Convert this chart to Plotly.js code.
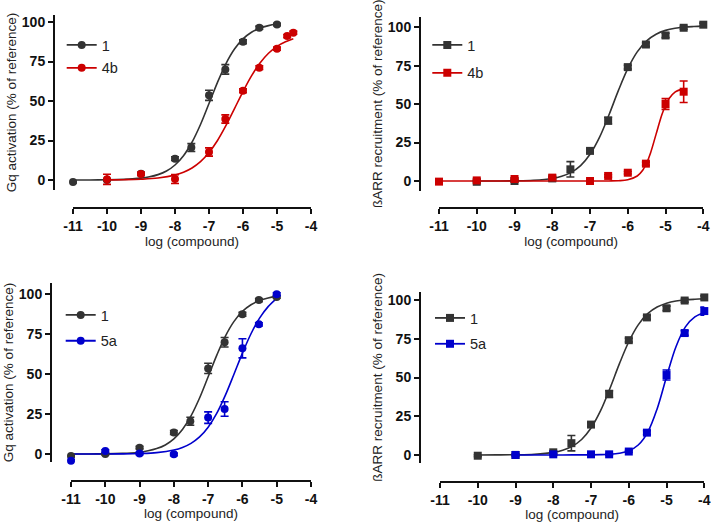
<!DOCTYPE html>
<html><head><meta charset="utf-8">
<script src="https://cdn.plot.ly/plotly-3.0.1.min.js"></script>
<style>html,body{margin:0;padding:0;background:#fff}#chart{width:711px;height:525px}</style>
</head><body><div id="chart"></div>
<script>
// ---------- tick labels ----------
const xTickVals = [-11, -10, -9, -8, -7, -6, -5, -4];
const xTickText = ['-11', '-10', '-9', '-8', '-7', '-6', '-5', '-4'];
const yTickVals = [0, 25, 50, 75, 100];
const yTickText = ['0', '25', '50', '75', '100'];
const seriesNames = ['1', '4b', '5a'];

// ---------- Gq activation: compound 1 (panels 1 & 3) ----------
const gq1X   = [-11, -10, -9, -8, -7.52, -7, -6.52, -6, -5.52, -5];
const gq1Y   = [-1.3, 0.0, 4.0, 13.5, 20.5, 53.6, 70.0, 87.5, 96.4, 98.4];
const gq1Err = [0.5, 0.5, 0.8, 1.2, 2.5, 3.2, 3.0, 1.2, 1.0, 0.8];
// ---------- Gq activation: 4b ----------
const gq4bX   = [-10, -9, -8, -7, -6.52, -6, -5.52, -5, -4.7, -4.52];
const gq4bY   = [0.4, 3.8, 0.6, 17.7, 38.6, 56.5, 71.1, 83.1, 91.1, 93.2];
const gq4bErr = [3.2, 1.0, 2.8, 2.6, 2.6, 1.2, 1.2, 1.0, 1.0, 1.0];
// ---------- Gq activation: 5a ----------
const gq5aX   = [-11, -10, -9, -8, -7, -6.52, -6, -5.52, -5];
const gq5aY   = [-4.2, 1.9, 0.4, -0.2, 22.8, 28.2, 66.2, 81.2, 100];
const gq5aErr = [0.8, 0.8, 0.8, 0.8, 3.6, 4.5, 6.0, 1.0, 1.0];
// ---------- ßARR recruitment: compound 1 (panels 2 & 4) ----------
const b1X   = [-10, -9, -8, -7.52, -7, -6.52, -6, -5.52, -5, -4.52, -4];
const b1Y   = [-0.5, 0.0, 1.7, 7.6, 19.6, 39.3, 74.1, 88.8, 94.7, 99.7, 101.7];
const b1Err = [0.6, 0.6, 0.8, 5.0, 1.2, 2.2, 1.2, 1.2, 1.4, 1.0, 1.0];
// ---------- ßARR recruitment: 4b ----------
const b4bX   = [-11, -10, -9, -8, -7, -6.52, -6, -5.52, -5, -4.52];
const b4bY   = [-0.4, 0.4, 1.3, 2.2, 0.0, 3.3, 5.4, 11.3, 50.1, 58.1];
const b4bErr = [0.5, 0.5, 0.6, 0.6, 0.5, 0.8, 0.8, 1.0, 3.5, 7.0];
// ---------- ßARR recruitment: 5a ----------
const b5aX   = [-9, -8, -7, -6.52, -6, -5.52, -5, -4.52, -4];
const b5aY   = [0.0, 0.4, 0.4, 0.4, 2.2, 14.4, 51.6, 78.7, 92.9];
const b5aErr = [0.5, 0.5, 0.5, 0.5, 0.6, 1.2, 3.2, 1.5, 2.6];

// ---------- fitted curves ----------
const fitGq1X = [-11, -10.5, -10, -9.5, -9.25, -9, -8.75, -8.5, -8.25, -8, -7.75, -7.5, -7.25, -7, -6.75, -6.5, -6.25, -6, -5.75, -5.5, -5.25, -5];
const fitGq1Y = [0.02, 0.04, 0.13, 0.39, 0.68, 1.17, 2.0, 3.4, 5.7, 9.5, 15.4, 23.9, 35.1, 48.4, 61.8, 73.7, 82.9, 89.3, 93.5, 96.1, 97.7, 98.7];
const fitGq4bX = [-10, -9.5, -9, -8.5, -8, -7.75, -7.5, -7.25, -7, -6.75, -6.5, -6.25, -6, -5.75, -5.5, -5.25, -5, -4.75, -4.52];
const fitGq4bY = [0.07, 0.19, 0.49, 1.24, 3.1, 4.9, 7.6, 11.6, 17.4, 25.0, 34.5, 45.2, 56.0, 65.9, 74.0, 80.2, 84.6, 87.5, 89.4];
const fitGq5aX = [-11, -10, -9.5, -9, -8.5, -8, -7.75, -7.5, -7.25, -7, -6.75, -6.5, -6.25, -6, -5.75, -5.5, -5.25, -5];
const fitGq5aY = [0.0, 0.04, 0.11, 0.32, 0.89, 2.5, 4.1, 6.7, 10.7, 16.8, 25.4, 36.7, 49.8, 63.2, 75.3, 85.1, 92.3, 97.5];
const fitB1X = [-10, -9.5, -9, -8.5, -8, -7.75, -7.5, -7.25, -7, -6.75, -6.5, -6.25, -6, -5.75, -5.5, -5.25, -5, -4.75, -4.5, -4.25, -4];
const fitB1Y = [0.01, 0.04, 0.13, 0.47, 1.64, 3.05, 5.6, 10.0, 17.4, 28.4, 42.9, 58.8, 73.1, 84.0, 91.2, 95.5, 98.0, 99.4, 100.1, 100.5, 100.8];
const fitB4bX = [-11, -10, -9, -8, -7, -6.5, -6.25, -6, -5.75, -5.6, -5.5, -5.4, -5.25, -5.1, -5, -4.9, -4.75, -4.52];
const fitB4bY = [0, 0, 0, 0, 0, 0.05, 0.19, 0.8, 3.25, 7.2, 11.7, 18.1, 30.5, 42.9, 49.3, 53.8, 57.8, 60.1];
const fitB5aX = [-9, -8.5, -8, -7.5, -7, -6.75, -6.5, -6.25, -6, -5.75, -5.5, -5.25, -5, -4.75, -4.5, -4.25, -4];
const fitB5aY = [0, 0, 0.01, 0.02, 0.07, 0.18, 0.43, 1.08, 2.66, 6.4, 14.6, 29.7, 50.5, 69.9, 82.7, 89.1, 92.0];

// ---------- styling ----------
const FONT = 'Liberation Sans, Arial, Helvetica, sans-serif';
const C_BLACK = '#333333', C_RED = '#cc0000', C_BLUE = '#0000cc';
const bold = arr => arr.map(t => '<b>' + t + '</b>');

// isolate each point (null between points) so the legend glyph shows line + marker
function isolate(arr) { const out = []; arr.forEach(v => { out.push(v, null); }); return out; }

function curve(x, y, color, ax, grp) {
  return { x, y, type: 'scatter', mode: 'lines', xaxis: ax.x, yaxis: ax.y,
    line: { color, width: 1.6, shape: 'spline', smoothing: 1 },
    showlegend: false, hoverinfo: 'skip', legendgroup: grp, legend: ax.lg, cliponaxis: false };
}
function points(x, y, err, color, symbol, name, ax, grp) {
  return { x: isolate(x), y: isolate(y), type: 'scatter', mode: 'lines+markers',
    xaxis: ax.x, yaxis: ax.y, name, legendgroup: grp, legend: ax.lg,
    line: { color, width: 1.8 }, connectgaps: false,
    marker: { symbol, size: 8, color, line: { width: 0 } },
    error_y: { type: 'data', array: isolate(err), visible: true, color, thickness: 1.6, width: 4 },
    cliponaxis: false };
}

const A1 = { x: 'x', y: 'y', lg: 'legend' };
const A2 = { x: 'x2', y: 'y2', lg: 'legend2' };
const A3 = { x: 'x3', y: 'y3', lg: 'legend3' };
const A4 = { x: 'x4', y: 'y4', lg: 'legend4' };

const traces = [
  curve(fitGq1X, fitGq1Y, C_BLACK, A1, 'p1a'),
  curve(fitGq4bX, fitGq4bY, C_RED, A1, 'p1b'),
  points(gq1X, gq1Y, gq1Err, C_BLACK, 'circle', seriesNames[0], A1, 'p1a'),
  points(gq4bX, gq4bY, gq4bErr, C_RED, 'circle', seriesNames[1], A1, 'p1b'),

  curve(fitB1X, fitB1Y, C_BLACK, A2, 'p2a'),
  curve(fitB4bX, fitB4bY, C_RED, A2, 'p2b'),
  points(b1X, b1Y, b1Err, C_BLACK, 'square', seriesNames[0], A2, 'p2a'),
  points(b4bX, b4bY, b4bErr, C_RED, 'square', seriesNames[1], A2, 'p2b'),

  curve(fitGq1X, fitGq1Y, C_BLACK, A3, 'p3a'),
  curve(fitGq5aX, fitGq5aY, C_BLUE, A3, 'p3b'),
  points(gq1X, gq1Y, gq1Err, C_BLACK, 'circle', seriesNames[0], A3, 'p3a'),
  points(gq5aX, gq5aY, gq5aErr, C_BLUE, 'circle', seriesNames[2], A3, 'p3b'),

  curve(fitB1X, fitB1Y, C_BLACK, A4, 'p4a'),
  curve(fitB5aX, fitB5aY, C_BLUE, A4, 'p4b'),
  points(b1X, b1Y, b1Err, C_BLACK, 'square', seriesNames[0], A4, 'p4a'),
  points(b5aX, b5aY, b5aErr, C_BLUE, 'square', seriesNames[2], A4, 'p4b')
];

const W = 711, H = 525;
const px = v => v / W, py = v => 1 - v / H;
const LINE = '#111111';

function xAxis(l, r, yLine) {
  return { domain: [px(l), px(r)], range: [-11, -4], anchor: 'free', position: py(yLine),
    showline: true, linewidth: 2, linecolor: LINE, ticks: 'outside', ticklen: 5, tickwidth: 2, tickcolor: LINE,
    tickmode: 'array', tickvals: xTickVals, ticktext: bold(xTickText), showgrid: false, zeroline: false,
    tickfont: { family: FONT, size: 14, weight: 700, color: '#111' },
    title: { text: 'log (compound)', standoff: 2, font: { family: FONT, size: 13.5, color: '#222' } },
    fixedrange: true };
}
function yAxis(xLine, top, bottom, r0, r1, title) {
  return { domain: [py(bottom), py(top)], range: [r0, r1], anchor: 'free', position: px(xLine),
    showline: true, linewidth: 2, linecolor: LINE, ticks: 'outside', ticklen: 5, tickwidth: 2, tickcolor: LINE,
    tickmode: 'array', tickvals: yTickVals, ticktext: bold(yTickText), showgrid: false, zeroline: false,
    tickfont: { family: FONT, size: 14, weight: 700, color: '#111' },
    title: { text: title, font: { family: FONT, size: 13.5, color: '#222' } },
    fixedrange: true };
}
function legendAt(xc, yTop, gap) {
  return { x: px(xc - 20), y: py(yTop), xanchor: 'left', yanchor: 'top', bgcolor: 'rgba(0,0,0,0)',
    borderwidth: 0, font: { family: FONT, size: 14.5, color: '#222' }, tracegroupgap: gap,
    itemclick: false, itemdoubleclick: false };
}

const GQ = 'Gq activation (% of reference)';
const BA = 'ßARR recruitment (% of reference)';

const layout = {
  width: W, height: H, margin: { l: 0, r: 0, t: 0, b: 0 },
  paper_bgcolor: '#fff', plot_bgcolor: '#fff', font: { family: FONT },
  xaxis:  xAxis(73, 311, 208),
  yaxis:  yAxis(54, 15, 190, -6.33, 104.43, GQ),
  xaxis2: xAxis(439, 703.3, 208.3),
  yaxis2: yAxis(420, 16.7, 190.7, -6.3, 106.9, BA),
  xaxis3: xAxis(71, 311, 480.7),
  yaxis3: yAxis(51, 283.3, 461.7, -4.8, 106.9, GQ),
  xaxis4: xAxis(440, 704.3, 481.7),
  yaxis4: yAxis(420, 291.7, 463, -5.2, 105.4, BA),
  legend:  legendAt(81.7, 29, 1),
  legend2: legendAt(447.3, 29, 6),
  legend3: legendAt(80.7, 299, 4),
  legend4: legendAt(450, 302, 4),
  showlegend: true
};

Plotly.newPlot('chart', traces, layout, { displayModeBar: false, staticPlot: true });
</script>
</body></html>
